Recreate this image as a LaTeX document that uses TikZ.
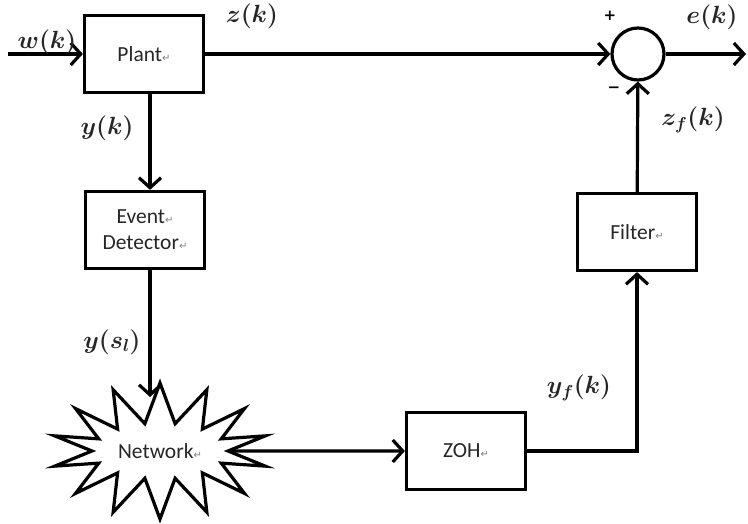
\documentclass[tikz,border=0pt]{standalone}
\usepackage{fontspec}
\setmainfont{Carlito}
\newfontfamily\dejavu{DejaVu Sans}
\usetikzlibrary{arrows.meta,shapes.symbols,positioning}
\newcommand{\retmark}{{\dejavu\color{gray}\fontsize{10}{10}\selectfont ↵}}
\begin{document}
\begin{tikzpicture}[x=1pt, y=1pt,
  block/.style={draw, line width=3.2pt, minimum width=119pt, minimum height=77pt,
                font=\fontsize{21.5}{26}\selectfont, text=black!85, align=center},
  sig/.style={line width=3.2pt, -{Straight Barb[length=10pt,width=22pt]}},
  lab/.style={font=\fontsize{23}{26}\selectfont\boldmath, text=black!85},
  sign/.style={font=\dejavu\fontsize{15}{15}\selectfont\bfseries}]
    \useasboundingbox (0,0) rectangle (748,523);

    % Blocks
    \path (144,469) node[block] (plant) {Plant\retmark};
    \path (145,293) node[block] (ed) {Event\retmark\\Detector\retmark};
    \path (466,72) node[block] (zoh) {ZOH\retmark};
    \path (637,291) node[block] (filt) {Filter\retmark};

    % Network cloud
    \path (160,72) node[draw, line width=3.2pt, starburst, starburst points=14,
          random starburst=0, starburst point height=40pt, minimum width=216pt,
          minimum height=136pt, inner sep=0pt, font=\fontsize{21.5}{26}\selectfont,
          text=black!85] (net) {Network\retmark};

    % Summing junction
    \path (638,469) node[draw, circle, line width=3.2pt, minimum size=52pt] (sum) {};
    \node[sign] (plus) at (610,507) {+};
    \node[sign] (minus) at (614,433) {−};

    % Free ends
    \path (8,469) coordinate (win) (746,469) coordinate (eout) (150,126) coordinate (netin);

    % Connections
    \draw[sig] (win) -- (plant);
    \draw[sig] (plant) -- (sum);
    \draw[sig] (sum) -- (eout);
    \draw[sig] (plant.south -| netin) -- (ed.north -| netin);
    \draw[sig] (ed.south -| netin) -- (netin);
    \draw[sig] (net) -- (zoh);
    \draw[sig] (zoh) -| (filt);
    \draw[sig] (filt) -- (sum);

    % Signal labels
    \node[lab, anchor=base] (wl) at (47,474) {$w(k)$};
    \node[lab] (zl) at (252,507) {$z(k)$};
    \node[lab] (el) at (712,506) {$e(k)$};
    \node[lab] (yl) at (107,395) {$y(k)$};
    \node[lab] (ysl) at (112,181) {$y(s_l)$};
    \node[lab] (yfl) at (579,135) {$y_f(k)$};
    \node[lab] (zfl) at (693,403) {$z_f(k)$};
\end{tikzpicture}
\end{document}
